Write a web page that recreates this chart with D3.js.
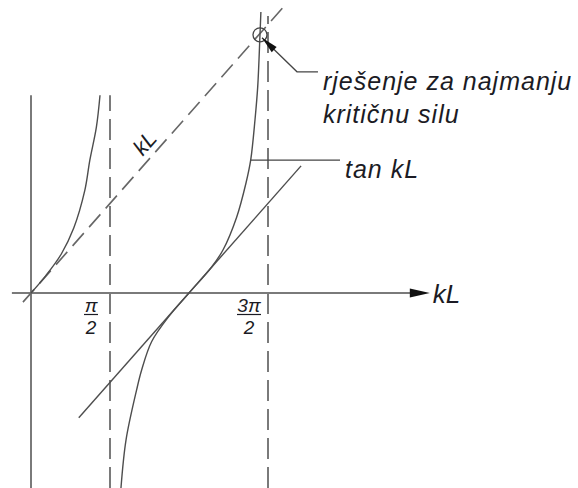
<!DOCTYPE html>
<html>
<head>
<meta charset="utf-8">
<script src="https://cdn.jsdelivr.net/npm/d3@7"></script>
<style>
  body { margin: 0; background: #fff; }
  text { font-family: "Liberation Sans", Arial, sans-serif; font-style: italic; fill: #1b1b24; }
</style>
</head>
<body>
<div id="chart"></div>
<script>
// tan kL branches (kL, tan kL)
const branchLeft = [[0, 0], [0.3, 0.31], [0.6, 0.68], [0.85, 1.14], [1.07, 1.8], [1.17, 2.33], [1.3, 2.91], [1.372, 3.47]];
const branchRight = [[1.789, -3.42], [1.889, -2.58], [2.1, -1.7], [2.2, -1.35], [2.4, -0.85], [2.75, -0.4], [3.142, 0],
    [3.592, 0.456], [3.817, 0.754], [4.089, 1.33], [4.275, 1.93], [4.368, 2.33], [4.454, 3.04], [4.508, 3.62],
    [4.553, 4.53], [4.571, 4.93]];

// straight lines: y = kL and the tangent at kL = pi
const lineKL = [[-0.16, -0.16], [5.05, 5.05]];
const lineTangent = [[0.95, -2.19], [5.37, 2.23]];

// asymptotes at pi/2 and 3pi/2
const asymptotes = [Math.PI / 2, 3 * Math.PI / 2];
const asymptoteTops = [3.47, 4.86];
const tickNumerators = ["π", "3π"];
const tickDenominator = "2";

const xAxisRange = [-0.38, 7.93];
const yAxisRange = [-3.42, 3.47];
const solution = [4.553, 4.53];
const tanLabelAt = [4.368, 2.33];

const width = 578, height = 488;

const x = d3.scaleLinear().domain([0, 1.5 * Math.PI]).range([31, 268]);
const y = d3.scaleLinear().domain([0, 5]).range([293, 8]);

const svg = d3.select("#chart").append("svg")
    .attr("width", width)
    .attr("height", height);

const axisColor = "#7a7a7a";
const curveColor = "#4d4d4d";

// axes
const ax0 = y(0);
const tipX = x(xAxisRange[1]);
svg.append("line")
    .attr("x1", x(xAxisRange[0])).attr("x2", tipX - 16)
    .attr("y1", ax0).attr("y2", ax0)
    .attr("stroke", axisColor).attr("stroke-width", 2);
svg.append("path")
    .attr("d", `M${tipX},${ax0} L${tipX - 20},${ax0 - 4.5} L${tipX - 20},${ax0 + 4.5} Z`)
    .attr("fill", "#111");
svg.append("line")
    .attr("x1", x(0)).attr("x2", x(0))
    .attr("y1", y(yAxisRange[0])).attr("y2", y(yAxisRange[1]))
    .attr("stroke", axisColor).attr("stroke-width", 2);

// dashed asymptotes
svg.append("g").selectAll("line")
    .data(asymptotes)
    .enter().append("line")
    .attr("x1", d => x(d)).attr("x2", d => x(d))
    .attr("y1", y(yAxisRange[0]))
    .attr("y2", (d, i) => y(asymptoteTops[i]))
    .attr("stroke", axisColor).attr("stroke-width", 2)
    .attr("stroke-dasharray", "21,8");

// fraction tick labels
const ticks = svg.append("g").selectAll("g")
    .data(asymptotes)
    .enter().append("g")
    .attr("transform", d => `translate(${x(d) - 19},${ax0})`);
ticks.append("text")
    .attr("text-anchor", "middle").attr("y", 19)
    .style("font-size", "19px")
    .text((d, i) => tickNumerators[i]);
ticks.append("line")
    .attr("x1", (d, i) => i ? -12 : -7).attr("x2", (d, i) => i ? 12 : 7)
    .attr("y1", 21.5).attr("y2", 21.5)
    .attr("stroke", "#1b1b24").attr("stroke-width", 1.2);
ticks.append("text")
    .attr("text-anchor", "middle").attr("y", 41)
    .style("font-size", "19px")
    .text(tickDenominator);

const line = d3.line().x(d => x(d[0])).y(d => y(d[1]));
const curve = d3.line().x(d => x(d[0])).y(d => y(d[1])).curve(d3.curveCatmullRom.alpha(0.5));

// kL dashed line
svg.append("path")
    .attr("d", line(lineKL))
    .attr("fill", "none").attr("stroke", "#666").attr("stroke-width", 1.6)
    .attr("stroke-dasharray", "17,8");

// tangent line
svg.append("path")
    .attr("d", line(lineTangent))
    .attr("fill", "none").attr("stroke", curveColor).attr("stroke-width", 1.4);

// tan branches
svg.append("g").selectAll("path")
    .data([branchLeft, branchRight])
    .enter().append("path")
    .attr("d", curve)
    .attr("fill", "none").attr("stroke", curveColor).attr("stroke-width", 1.4);

// diagonal kL label
const ang = Math.atan2(y(1) - y(0), x(1) - x(0));
const lp = [x(2.47), y(2.47)];
const nx = Math.sin(ang) * 14, ny = -Math.cos(ang) * 14;
svg.append("text")
    .attr("transform", `translate(${lp[0] + nx},${lp[1] + ny}) rotate(${ang * 180 / Math.PI})`)
    .attr("text-anchor", "middle").attr("dy", "0.35em")
    .style("font-size", "22px")
    .text("kL");

// solution circle + leader arrow
const cx = x(solution[0]), cy = y(solution[1]);
svg.append("circle")
    .attr("cx", cx).attr("cy", cy).attr("r", 7)
    .attr("fill", "none").attr("stroke", "#444").attr("stroke-width", 1.3);

const tip = [cx + 2, cy + 3];
const elbow = [cx + 37, cy + 37];
const end = [cx + 58, cy + 37];
svg.append("path")
    .attr("d", `M${tip[0]},${tip[1]} L${elbow[0]},${elbow[1]} L${end[0]},${end[1]}`)
    .attr("fill", "none").attr("stroke", "#444").attr("stroke-width", 1.3);
const dx = tip[0] - elbow[0], dy = tip[1] - elbow[1];
const dl = Math.hypot(dx, dy), ux = dx / dl, uy = dy / dl;
const bx = tip[0] - ux * 17, by = tip[1] - uy * 17;
svg.append("path")
    .attr("d", `M${tip[0]},${tip[1]} L${bx - uy * 3.5},${by + ux * 3.5} L${bx + uy * 3.5},${by - ux * 3.5} Z`)
    .attr("fill", "#111");

const note = svg.append("text")
    .attr("x", end[0] + 5).attr("y", end[1] + 18)
    .style("font-size", "25px").style("letter-spacing", "1px");
note.append("tspan").text("rješenje za najmanju");
note.append("tspan").attr("x", end[0] + 5).attr("dy", 33).text("kritičnu silu");

// tan kL leader
const ty = y(tanLabelAt[1]);
svg.append("line")
    .attr("x1", x(tanLabelAt[0])).attr("x2", 340)
    .attr("y1", ty).attr("y2", ty)
    .attr("stroke", "#444").attr("stroke-width", 1.3);
svg.append("text")
    .attr("x", 345).attr("y", ty + 18)
    .style("font-size", "25px").style("letter-spacing", "1px")
    .text("tan kL");

// axis label
svg.append("text")
    .attr("x", tipX + 3).attr("y", ax0 + 10)
    .style("font-size", "26px")
    .text("kL");
</script>
</body>
</html>
